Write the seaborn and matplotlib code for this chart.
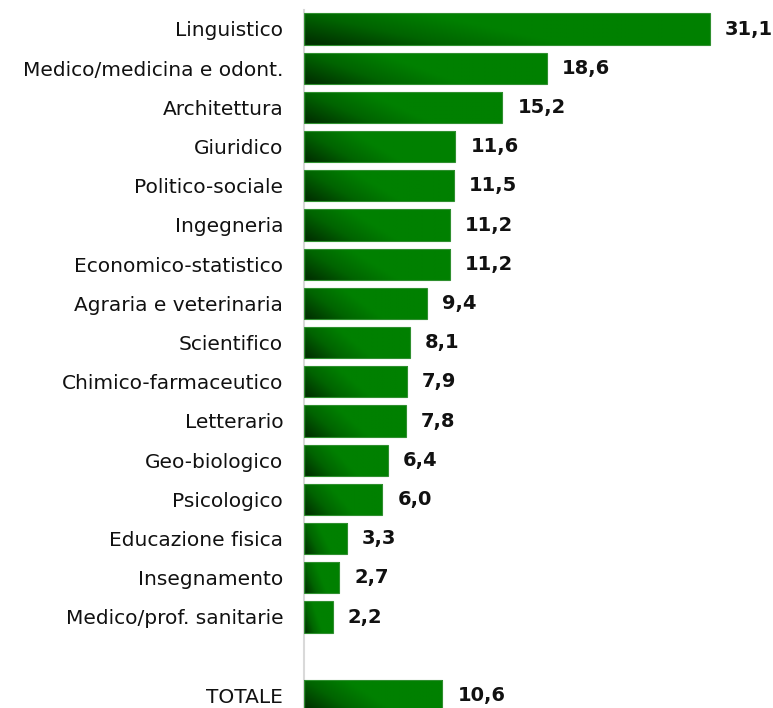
import numpy as np
import pandas as pd
import matplotlib
matplotlib.use("Agg")
import matplotlib.pyplot as plt
import seaborn as sns
from matplotlib.colors import LinearSegmentedColormap

categories = ["Linguistico", "Medico/medicina e odont.", "Architettura", "Giuridico",
              "Politico-sociale", "Ingegneria", "Economico-statistico",
              "Agraria e veterinaria", "Scientifico", "Chimico-farmaceutico",
              "Letterario", "Geo-biologico", "Psicologico", "Educazione fisica",
              "Insegnamento", "Medico/prof. sanitarie", " ", "TOTALE"]
values = [31.1, 18.6, 15.2, 11.6, 11.5, 11.2, 11.2, 9.4, 8.1, 7.9, 7.8, 6.4, 6.0,
          3.3, 2.7, 2.2, np.nan, 10.6]

df = pd.DataFrame({"cat": categories, "val": values})

sns.set_theme(style="white")
plt.rcParams['font.family'] = ['DejaVu Sans']

W, H = 773, 708
fig = plt.figure(figsize=(W / 100, H / 100), dpi=100)
pxu = (710 - 304) / 31.1
ax_w = 35 * pxu
top_px = 10
ax = fig.add_axes([304 / W, 0, ax_w / W, (H - top_px) / H])

sns.barplot(data=df, x="val", y="cat", order=categories, orient="h",
            width=0.8, color="#008000", ax=ax, saturation=1, errorbar=None)

step = 39.2
i_top = (top_px - 29) / step
i_bot = (H - 29) / step
ax.set_ylim(i_bot, i_top)
ax.set_xlim(0, 35)

cmap = LinearSegmentedColormap.from_list("g", ["#003300", "#006400", "#008000"])
ny, nx = 40, 200
xx, yy = np.meshgrid(np.linspace(0, 1, nx), np.linspace(0, 1, ny))
grad = np.clip((xx + 0.35 * (1 - yy) - 0.05) / 0.6, 0, 1)

for p in list(ax.patches):
    w = p.get_width()
    if not np.isfinite(w) or w <= 0:
        continue
    y0 = p.get_y()
    h = p.get_height()
    im = ax.imshow(grad, cmap=cmap, vmin=0, vmax=1, aspect="auto",
                   extent=[0, w, y0 + h, y0], origin="upper", zorder=2,
                   interpolation="bilinear")
    im.set_clip_path(p)
    p.set_facecolor("none")
    p.set_edgecolor("#2f8f2f")
    p.set_linewidth(0.8)
    p.set_zorder(3)

ax.set_ylim(i_bot, i_top)
ax.set_xlim(0, 35)

for i, v in enumerate(values):
    if np.isfinite(v):
        ax.text(v + 15 / pxu, i, f"{v:.1f}".replace(".", ","), va="center", ha="left",
                fontsize=14, fontweight="bold", color="#111111", clip_on=False)

ax.set_xlabel("")
ax.set_ylabel("")
ax.set_xticks([])
ax.tick_params(axis="y", length=0, pad=15, labelsize=14.5, labelcolor="#111111")
for s in ["top", "right", "bottom"]:
    ax.spines[s].set_visible(False)
ax.spines["left"].set_color("#d9d9d9")
ax.spines["left"].set_linewidth(1.5)

fig.savefig("out.png", dpi=100)
